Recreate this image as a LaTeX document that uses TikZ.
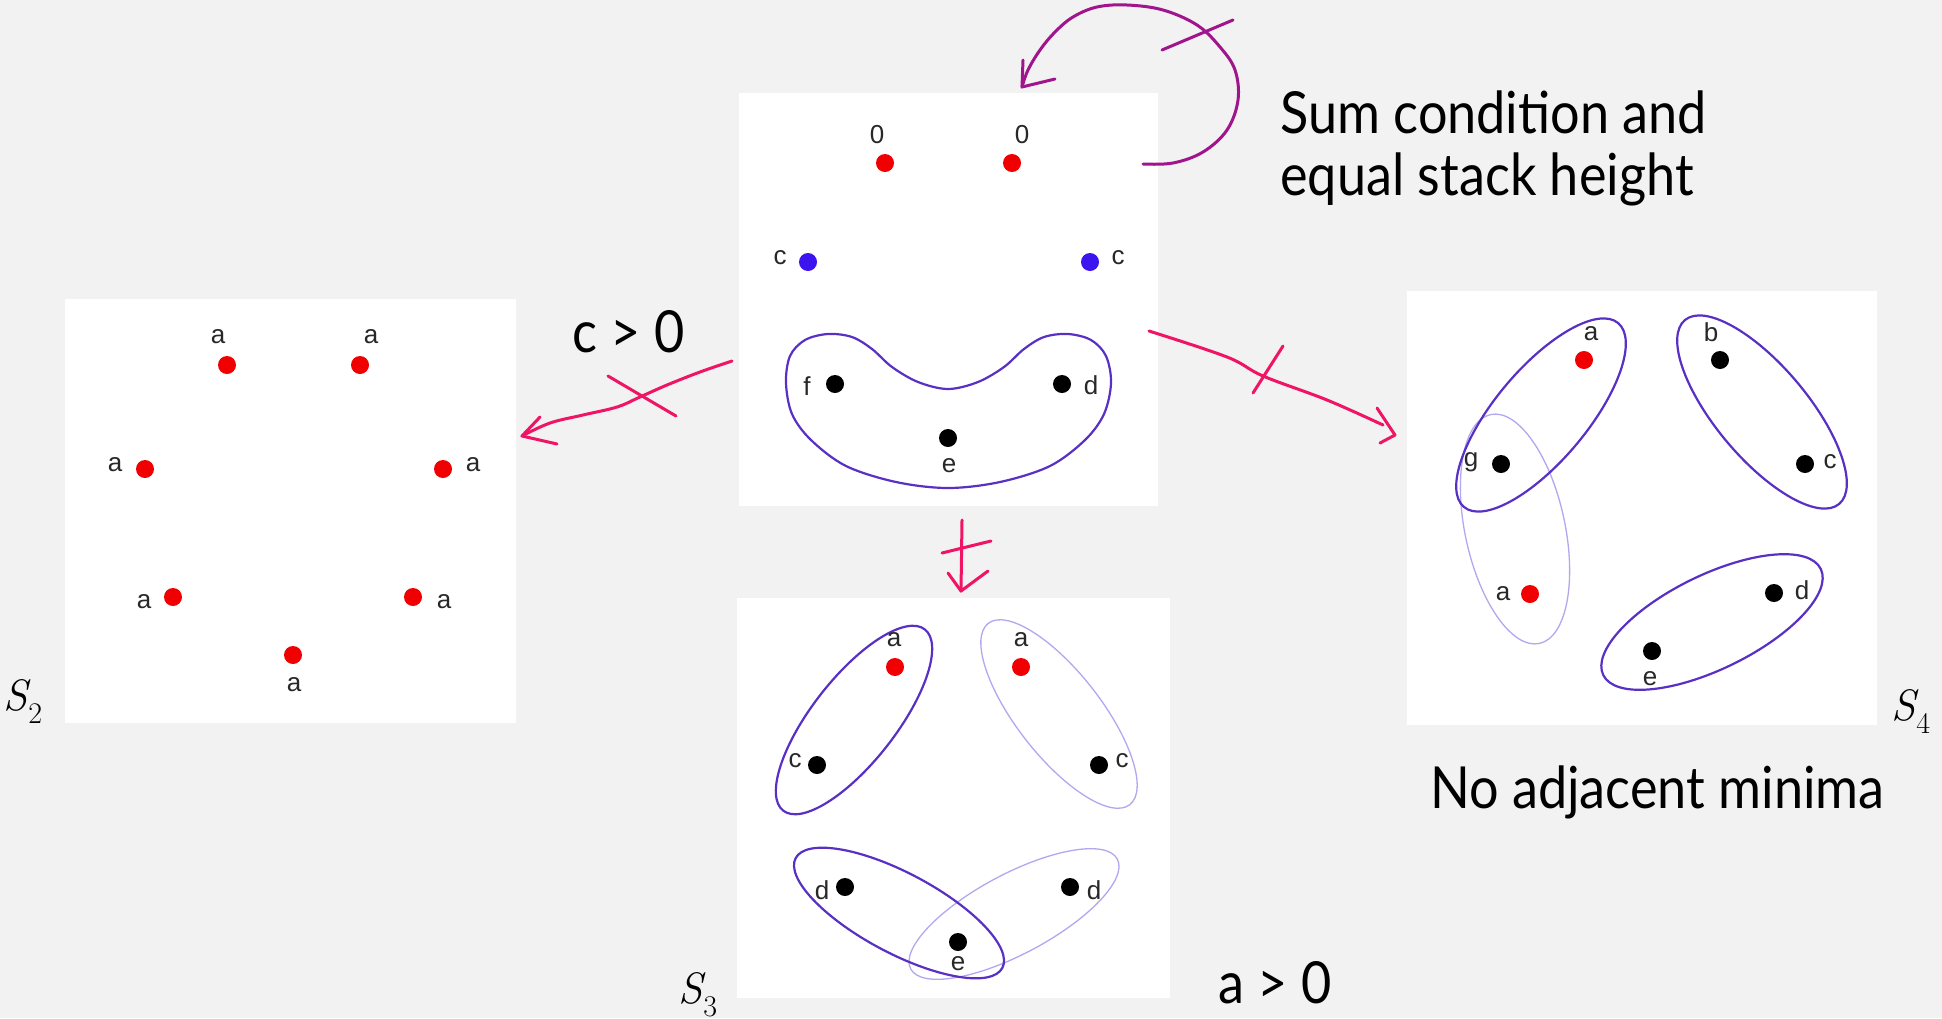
\documentclass[tikz,border=0pt]{standalone}
\usepackage{fontspec}
\setmainfont{Liberation Sans}
\newfontfamily\gillf[FakeStretch=0.9]{Lato}
\newfontfamily\lmr{Latin Modern Roman}
\definecolor{bggray}{RGB}{242,242,242}
\definecolor{dotred}{RGB}{240,0,0}
\definecolor{dotblue}{RGB}{60,20,240}
\definecolor{grpdark}{RGB}{88,48,196}
\definecolor{grplite}{RGB}{178,168,240}
\definecolor{inkpink}{RGB}{240,20,100}
\definecolor{inkpurple}{RGB}{160,20,140}
\definecolor{lblgray}{RGB}{40,40,40}
\newcommand{\slab}[1]{{\lmr\itshape S}\kern1pt\raisebox{-13pt}{\lmr\upshape\fontsize{30}{30}\selectfont #1}}
\tikzset{
  dotr/.style={circle, fill=dotred, inner sep=0pt, minimum size=18pt},
  dotb/.style={circle, fill=dotblue, inner sep=0pt, minimum size=18pt},
  dotk/.style={circle, fill=black, inner sep=0pt, minimum size=18pt},
  lbl/.style={font=\fontsize{26}{30}\selectfont, text=lblgray, inner sep=0pt},
  grp/.style={draw=grpdark, line width=2.2pt},
  grplight/.style={draw=grplite, line width=1.3pt},
  ink/.style={draw=inkpink, line width=3pt, line cap=round, line join=round},
  inkp/.style={draw=inkpurple, line width=3pt, line cap=round, line join=round},
  big/.style={font=\gillf\fontsize{58}{62}\selectfont, inner sep=0pt, anchor=base west},
  slbl/.style={font=\fontsize{44}{50}\selectfont, inner sep=0pt, anchor=base west},
}
\begin{document}
\begin{tikzpicture}[x=1pt, y=-1pt]
\useasboundingbox (0,0) rectangle (1942,1018);
\fill[bggray] (0,0) rectangle (1942,1018);
% panels
\fill[white] (739,93) rectangle (1158,506);
\fill[white] (65,299) rectangle (516,723);
\fill[white] (737,598) rectangle (1170,998);
\fill[white] (1407,291) rectangle (1877,725);

% ---------- central panel ----------
\node[dotr] (c0a) at (885,163) {};
\node[dotr] (c0b) at (1012,163) {};
\node[lbl] (l0a) at (877,135) {0};
\node[lbl] (l0b) at (1022,135) {0};
\node[dotb] (ccl) at (808,262) {};
\node[dotb] (ccr) at (1090,262) {};
\node[lbl] (lcl) at (780,258) {c};
\node[lbl] (lcr) at (1118,258) {c};
\draw[grp] plot[smooth cycle, tension=0.55] coordinates {
  (786,383) (790,356) (805,340) (828,334) (852,337) (872,349) (892,367)
  (918,382) (948,389) (978,382) (1004,367) (1024,349) (1044,337) (1068,334)
  (1091,340) (1106,356) (1111,383) (1104,414) (1085,440) (1050,466)
  (1000,482) (948,488) (896,482) (846,466) (811,440) (792,414)};
\node[dotk] (cf) at (835,384) {};
\node[dotk] (cd) at (1062,384) {};
\node[dotk] (ce) at (948,438) {};
\node[lbl] (lf) at (807,386) {f};
\node[lbl] (ld) at (1091,385) {d};
\node[lbl] (le) at (949,466) {e};

% ---------- S2 panel ----------
\node[dotr] (s2a) at (227,365) {};
\node[dotr] (s2b) at (360,365) {};
\node[dotr] (s2c) at (145,469) {};
\node[dotr] (s2d) at (443,469) {};
\node[dotr] (s2e) at (173,597) {};
\node[dotr] (s2f) at (413,597) {};
\node[dotr] (s2g) at (293,655) {};
\node[lbl] (l2a) at (218,337) {a};
\node[lbl] (l2b) at (371,337) {a};
\node[lbl] (l2c) at (115,465) {a};
\node[lbl] (l2d) at (473,465) {a};
\node[lbl] (l2e) at (144,602) {a};
\node[lbl] (l2f) at (444,602) {a};
\node[lbl] (l2g) at (294,685) {a};

% ---------- S3 panel ----------
\draw[grp, rotate around={52:(854,720)}] (854,720) ellipse [x radius=115, y radius=42];
\draw[grplight, rotate around={128:(1059,714)}] (1059,714) ellipse [x radius=115, y radius=42];
\draw[grplight, rotate around={28:(1014,914)}] (1014,914) ellipse [x radius=117, y radius=40];
\draw[grp, rotate around={-28:(899,913)}] (899,913) ellipse [x radius=117, y radius=40];
\node[dotr] (s3a) at (895,667) {};
\node[dotr] (s3b) at (1021,667) {};
\node[dotk] (s3c) at (817,765) {};
\node[dotk] (s3d) at (1099,765) {};
\node[dotk] (s3e) at (845,887) {};
\node[dotk] (s3f) at (1070,887) {};
\node[dotk] (s3g) at (958,942) {};
\node[lbl] (l3a) at (894,640) {a};
\node[lbl] (l3b) at (1021,640) {a};
\node[lbl] (l3c) at (795,761) {c};
\node[lbl] (l3d) at (1122,761) {c};
\node[lbl] (l3e) at (822,890) {d};
\node[lbl] (l3f) at (1094,890) {d};
\node[lbl] (l3g) at (958,964) {e};

% ---------- S4 panel ----------
\draw[grplight, rotate around={102:(1515,529)}] (1515,529) ellipse [x radius=117, y radius=50];
\draw[grp, rotate around={50:(1541,415)}] (1541,415) ellipse [x radius=120, y radius=46];
\draw[grp, rotate around={130:(1762,412)}] (1762,412) ellipse [x radius=120, y radius=46];
\draw[grp, rotate around={26:(1712,622)}] (1712,622) ellipse [x radius=121, y radius=47];
\node[dotr] (s4a) at (1584,360) {};
\node[dotk] (s4g) at (1501,464) {};
\node[dotr] (s4h) at (1530,594) {};
\node[dotk] (s4b) at (1720,360) {};
\node[dotk] (s4c) at (1805,464) {};
\node[dotk] (s4d) at (1774,593) {};
\node[dotk] (s4e) at (1652,651) {};
\node[lbl] (l4a) at (1591,334) {a};
\node[lbl] (l4b) at (1711,332) {b};
\node[lbl] (l4g) at (1471,462) {g};
\node[lbl] (l4c) at (1830,462) {c};
\node[lbl] (l4h) at (1503,594) {a};
\node[lbl] (l4d) at (1802,590) {d};
\node[lbl] (l4e) at (1650,679) {e};

% ---------- texts ----------
\node[big] (t1) at (1280,133) {Sum condition and};
\node[big] (t2) at (1280,195) {equal stack height};
\node[big] (t3) at (572,352) {c > 0};
\node[big] (t4) at (1218,1003) {a > 0};
\node[big] (t5) at (1430,808) {No adjacent minima};
\node[slbl] (S2) at (3,710) {\slab{2}};
\node[slbl] (S3) at (678,1003) {\slab{3}};
\node[slbl] (S4) at (1891,720) {\slab{4}};

% ---------- ink arrows ----------
% self loop
\coordinate (loopS) at (1143,164);
\coordinate (loopT) at (1022,87);
\draw[inkp] plot[smooth, tension=0.6] coordinates {(loopS) (1173,163) (1203,152) (1227,130) (1238,100) (1235,70) (1220,47) (1197,25) (1163,10) (1127,5) (1097,7) (1073,17) (1055,32) (1040,50) (1028,70) (loopT)};
\draw[inkp] (1055,79) -- (loopT) -- (1023,60);
\draw[inkp] (1162,50) -- (1233,20);
% left arrow
\coordinate (lS) at (732,361);
\coordinate (lT) at (522,436);
\draw[ink] plot[smooth, tension=0.6] coordinates {(lS) (700,372) (667,385) (640,397) (617,407) (583,415) (550,423) (lT)};
\draw[ink] (540,417) -- (lT) -- (557,444);
\draw[ink] (608,376) -- (676,416);
% right arrow
\coordinate (rS) at (1149,331);
\coordinate (rT) at (1395,435);
\draw[ink] plot[smooth, tension=0.6] coordinates {(rS) (1227,357) (1263,376) (1327,400) (1383,425)};
\draw[ink] (1377,408) -- (rT) -- (1380,443);
\draw[ink] (1283,346) -- (1253,393);
% down arrow
\coordinate (dS) at (962,520);
\coordinate (dT) at (961,591);
\draw[ink] (dS) -- (dT);
\draw[ink] (948,573) -- (dT) -- (988,571);
\draw[ink] (942,553) -- (991,541);
\end{tikzpicture}
\end{document}
